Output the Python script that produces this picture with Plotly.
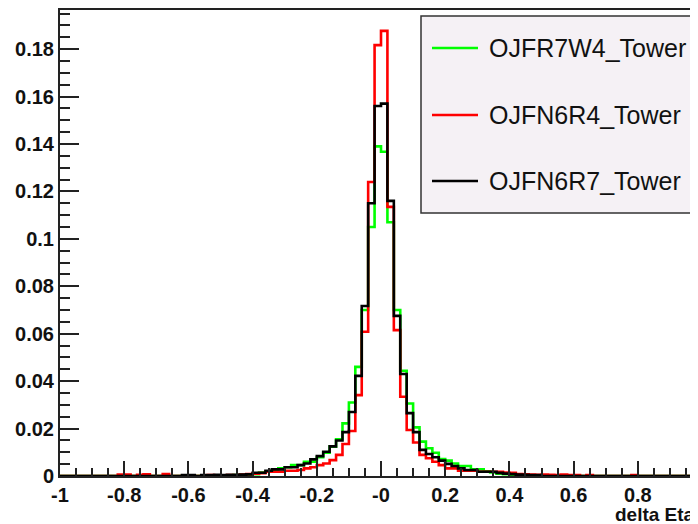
import plotly.graph_objects as go

# ---- data: 100 bins of width 0.02 from -1 to 1 ----
bin_lo = -1.0
bin_width = 0.02
n_bins = 100

series_names = ["OJFR7W4_Tower", "OJFN6R4_Tower", "OJFN6R7_Tower"]
series_colors = ["#00ff00", "#ff0000", "#000000"]

green_vals = [
    0, 0, 0, 0, 0, 0, 0, 0, 0, 0,
    0, 0, 0, 0, 0, 0, 0, 0, 0, 0,
    0, 0, 0, 0, 0, 0.0003, 0, 0.0004, 0.0004, 0.0006,
    0.0008, 0.0015, 0.0018, 0.0025, 0.0032, 0.0037, 0.0046, 0.0046, 0.006, 0.006,
    0.0079, 0.0098, 0.0124, 0.0155, 0.0222, 0.031, 0.046, 0.070, 0.105, 0.139,
    0.1367, 0.107, 0.070, 0.0444, 0.0306, 0.0205, 0.0145, 0.0117, 0.0098, 0.0072,
    0.0065, 0.0053, 0.0042, 0.0042, 0.0028, 0.0028, 0.002, 0.0015, 0.001, 0.0008,
    0.0005, 0.0004, 0.0003, 0, 0, 0, 0, 0, 0, 0,
    0, 0, 0, 0, 0, 0, 0, 0, 0, 0,
    0, 0, 0, 0, 0, 0, 0, 0, 0, 0,
]

red_vals = [
    0, 0, 0, 0, 0, 0, 0, 0, 0, 0.0006,
    0.0006, 0, 0.0005, 0.0007, 0, 0, 0.0008, 0, 0, 0,
    0, 0, 0, 0.0004, 0, 0, 0.0004, 0, 0.0006, 0.0008,
    0.001, 0.0012, 0.0018, 0.0018, 0.0018, 0.0022, 0.0022, 0.0025, 0.0032, 0.0037,
    0.0046, 0.0053, 0.0067, 0.0089, 0.0135, 0.019, 0.0341, 0.0608, 0.124, 0.1817,
    0.1877, 0.1135, 0.0615, 0.0334, 0.0194, 0.0141, 0.0089, 0.0075, 0.006, 0.0046,
    0.0032, 0.0032, 0.0022, 0.0022, 0.0022, 0.0018, 0.0018, 0.0018, 0.0018, 0.0015,
    0.0013, 0.0008, 0.0007, 0.0006, 0.0005, 0.0006, 0.0005, 0.0004, 0.0006, 0.0004,
    0.0004, 0, 0.0004, 0, 0, 0, 0, 0, 0, 0.0004,
    0, 0, 0, 0, 0, 0, 0, 0, 0, 0,
]

black_vals = [
    0, 0, 0, 0, 0, 0, 0, 0, 0, 0,
    0, 0, 0, 0, 0, 0, 0, 0, 0, 0.0004,
    0.0004, 0, 0.0004, 0.0004, 0.0005, 0.0004, 0.0005, 0.0005, 0.0006, 0.0007,
    0.0014, 0.0014, 0.0022, 0.0028, 0.0028, 0.0037, 0.0037, 0.0046, 0.0053, 0.007,
    0.0084, 0.0102, 0.0125, 0.015, 0.0185, 0.027, 0.0422, 0.0717, 0.115, 0.156,
    0.157, 0.116, 0.0675, 0.043, 0.0265, 0.0185, 0.011, 0.0093, 0.0079, 0.0065,
    0.0051, 0.0042, 0.0032, 0.0025, 0.0025, 0.0018, 0.0018, 0.0018, 0.0013, 0.001,
    0.0008, 0.0006, 0.0005, 0.0004, 0.0004, 0, 0, 0, 0, 0,
    0, 0, 0, 0, 0, 0, 0, 0, 0, 0,
    0, 0, 0, 0, 0, 0, 0, 0, 0, 0,
]

x_tick_vals = [-1, -0.8, -0.6, -0.4, -0.2, 0, 0.2, 0.4, 0.6, 0.8, 1]
x_tick_text = ["-1", "-0.8", "-0.6", "-0.4", "-0.2", "-0", "0.2", "0.4", "0.6", "0.8", "1"]
y_tick_vals = [0, 0.02, 0.04, 0.06, 0.08, 0.1, 0.12, 0.14, 0.16, 0.18]
y_tick_text = ["0", "0.02", "0.04", "0.06", "0.08", "0.1", "0.12", "0.14", "0.16", "0.18"]
x_title = "delta Eta"

# ---- figure geometry (page pixels; the page body has an 8px margin) ----
OFF = 8
W, H = 698 - OFF, 524 - OFF
ML, MR, MT, MB = 60 - OFF, 0, 10 - OFF, 48
PW, PH = W - ML - MR, H - MT - MB


def px(xp):
    return (xp - OFF - ML) / PW


def py(yp):
    return (H - MB - (yp - OFF)) / PH


edges = [round(bin_lo + i * bin_width, 4) for i in range(n_bins + 1)]

fig = go.Figure()
for name, color, vals in zip(series_names, series_colors, [green_vals, red_vals, black_vals]):
    fig.add_trace(go.Scatter(
        x=edges, y=list(vals) + [vals[-1]],
        mode="lines", line=dict(color=color, width=2.6, shape="hv"),
        name=name, showlegend=False, hoverinfo="skip",
    ))

tick_font = dict(family="Liberation Sans, Arial, sans-serif", size=20, color="#111", weight="bold")

fig.update_layout(
    width=W, height=H,
    margin=dict(l=ML, r=MR, t=MT, b=MB, pad=0),
    paper_bgcolor="white", plot_bgcolor="white",
    showlegend=False,
    xaxis=dict(
        range=[-1, -1 + PW / 321.0],
        showline=True, linecolor="#222", linewidth=2, mirror=True,
        ticks="inside", ticklen=15, tickwidth=1.5, tickcolor="#222",
        tickvals=x_tick_vals, ticktext=x_tick_text, tickfont=tick_font,
        showgrid=False, zeroline=False,
        minor=dict(ticks="inside", ticklen=8, tickwidth=1.5, tickcolor="#222",
                   tick0=0, dtick=0.05, showgrid=False),
    ),
    yaxis=dict(
        range=[0, 0.1965],
        showline=True, linecolor="#222", linewidth=2, mirror=False,
        ticks="inside", ticklen=19, tickwidth=1.5, tickcolor="#222",
        tickvals=y_tick_vals, ticktext=y_tick_text, tickfont=tick_font,
        showgrid=False, zeroline=False,
        minor=dict(ticks="inside", ticklen=10, tickwidth=1.5, tickcolor="#222",
                   tick0=0, dtick=0.005, showgrid=False),
    ),
)

# ---- legend box drawn in the ROOT style ----
shapes = [dict(type="rect", xref="paper", yref="paper",
               x0=px(421), x1=px(693), y0=py(213), y1=py(16),
               fillcolor="#f5f1f5", line=dict(color="#333", width=1.5), layer="above")]
annotations = []
legend_rows = [48, 115, 181]
for name, color, yrow in zip(series_names, series_colors, legend_rows):
    shapes.append(dict(type="line", xref="paper", yref="paper",
                       x0=px(432), x1=px(478), y0=py(yrow), y1=py(yrow),
                       line=dict(color=color, width=2.5), layer="above"))
    annotations.append(dict(xref="paper", yref="paper", x=px(487), y=py(yrow),
                            xanchor="left", yanchor="middle", showarrow=False,
                            text=name,
                            font=dict(family="Liberation Sans, Arial, sans-serif", size=25, color="#111")))

annotations.append(dict(xref="paper", yref="paper", x=px(697), y=py(514),
                        xanchor="right", yanchor="middle", showarrow=False,
                        text=x_title,
                        font=dict(family="Liberation Sans, Arial, sans-serif", size=19,
                                  color="#111", weight="bold")))

fig.update_layout(shapes=shapes, annotations=annotations)

fig.write_html("out.html")
